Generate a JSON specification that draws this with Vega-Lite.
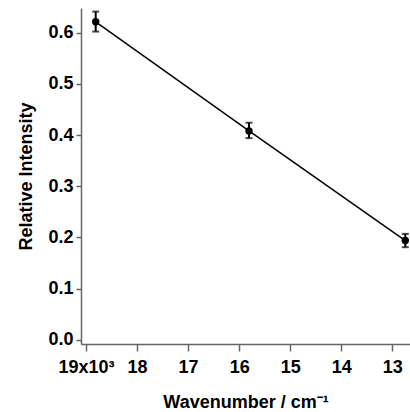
{
  "$schema": "https://vega.github.io/schema/vega-lite/v6.json",
  "width": 329,
  "height": 336,
  "autosize": {"type": "none"},
  "padding": {"left": 81, "top": 8, "right": 0, "bottom": 68},
  "background": "white",
  "config": {
    "view": {"stroke": null},
    "font": "Liberation Sans",
    "axis": {
      "grid": false,
      "domainColor": "#666666",
      "domainWidth": 1.5,
      "tickColor": "#666666",
      "tickWidth": 1.5,
      "labelFont": "Liberation Sans",
      "labelFontSize": 18,
      "labelFontWeight": "bold",
      "labelColor": "black",
      "titleFont": "Liberation Sans",
      "titleFontSize": 18,
      "titleFontWeight": "bold",
      "titleColor": "black"
    }
  },
  "data": {
    "values": [
      {"wn": 18810, "ri": 0.621, "lo": 0.602, "hi": 0.641},
      {"wn": 15807, "ri": 0.408, "lo": 0.394, "hi": 0.424},
      {"wn": 12745, "ri": 0.194, "lo": 0.181, "hi": 0.207}
    ]
  },
  "encoding": {
    "x": {
      "field": "wn",
      "type": "quantitative",
      "scale": {"domain": [19098, 12653], "nice": false, "zero": false},
      "axis": {
        "title": "Wavenumber / cm⁻¹",
        "values": [19000, 18000, 17000, 16000, 15000, 14000, 13000],
        "labelExpr": "datum.value == 19000 ? '19x10³' : format(datum.value / 1000, 'd')",
        "tickSize": 7,
        "labelPadding": 7,
        "titlePadding": 17,
        "labelFlush": false,
        "labelOverlap": false
      }
    },
    "y": {
      "field": "ri",
      "type": "quantitative",
      "scale": {"domain": [-0.008, 0.648], "nice": false, "zero": false},
      "axis": {
        "title": "Relative Intensity",
        "values": [0, 0.1, 0.2, 0.3, 0.4, 0.5, 0.6],
        "format": ".1f",
        "tickSize": 5,
        "labelPadding": 3,
        "titlePadding": 12,
        "labelFlush": false,
        "labelOverlap": false
      }
    }
  },
  "layer": [
    {"mark": {"type": "line", "color": "black", "strokeWidth": 1.5}},
    {
      "mark": {"type": "rule", "color": "black", "strokeWidth": 2},
      "encoding": {"y": {"field": "lo", "type": "quantitative"}, "y2": {"field": "hi"}}
    },
    {
      "mark": {"type": "tick", "color": "black", "orient": "horizontal", "size": 7, "thickness": 2},
      "encoding": {"y": {"field": "lo", "type": "quantitative"}}
    },
    {
      "mark": {"type": "tick", "color": "black", "orient": "horizontal", "size": 7, "thickness": 2},
      "encoding": {"y": {"field": "hi", "type": "quantitative"}}
    },
    {"mark": {"type": "point", "filled": true, "color": "black", "opacity": 1, "size": 55}}
  ]
}
